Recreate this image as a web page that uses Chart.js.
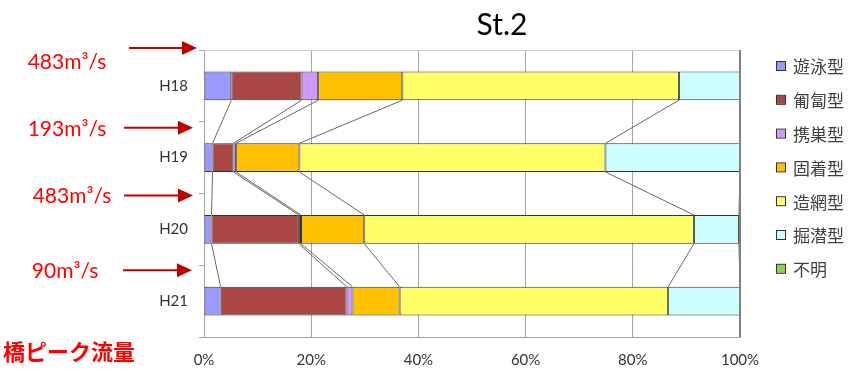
<!DOCTYPE html>
<html lang="ja">
<head>
<meta charset="UTF-8">
<title>St.2</title>
<script src="https://cdn.jsdelivr.net/npm/chart.js"></script>
<style>
  html, body { margin: 0; padding: 0; background: #fff; }
  #wrap { width: 857px; height: 369px; position: relative; }
</style>
</head>
<body>
<div id="wrap"><canvas id="chart"></canvas></div>
<script>
// survey years
const years = ['H18', 'H19', 'H20', 'H21'];

// feeding/habit types and their composition (%) per year
const typeNames = ['遊泳型', '匍匐型', '携巣型', '固着型', '造網型', '掘潜型', '不明'];
const swimming  = [5.1, 1.6, 1.4, 3.1];
const crawling  = [13.1, 3.9, 16.3, 23.5];
const caseMaker = [3.1, 0.5, 0.4, 1.1];
const clinging  = [15.7, 11.8, 11.8, 8.8];
const netSpin   = [51.6, 57.1, 61.5, 50.1];
const burrowing = [11.4, 25.1, 8.4, 13.4];
const unknown   = [0, 0, 0.2, 0];

// peak discharge at the bridge before each survey
const peakFlow = ['483m³/s', '193m³/s', '483m³/s', '90m³/s'];

const colors = ['#9999FF', '#AA4643', '#CC99FF', '#FFC000', '#FFFF66', '#CCFFFF', '#92D050'];
const seriesValues = [swimming, crawling, caseMaker, clinging, netSpin, burrowing, unknown];

const datasets = typeNames.map((name, i) => ({
  label: name,
  data: seriesValues[i],
  backgroundColor: colors[i],
  borderColor: '#333333',
  borderWidth: 1,
  borderSkipped: false,
  barPercentage: 0.4,
  categoryPercentage: 1
}));

// grey connector lines between neighbouring bars, like Excel series lines
const seriesLines = {
  id: 'seriesLines',
  beforeDatasetsDraw(chart) {
    const ctx = chart.ctx;
    ctx.save();
    ctx.strokeStyle = '#666666';
    ctx.lineWidth = 1;
    for (let d = 0; d < chart.data.datasets.length; d++) {
      const bars = chart.getDatasetMeta(d).data;
      for (let i = 0; i < bars.length - 1; i++) {
        const a = bars[i], b = bars[i + 1];
        ctx.beginPath();
        ctx.moveTo(a.x, a.y + a.height / 2);
        ctx.lineTo(b.x, b.y - b.height / 2);
        ctx.stroke();
      }
    }
    ctx.restore();
  }
};

// hand placement of the discharge notes (offsets from the band edge above each year)
const noteArrowDy = [-2, 6, 2, 5];
const noteArrowX = [[129, 197], [124, 193], [124, 193], [123, 192]];
const noteText = [[67, 12], [67, 7], [72, 3], [65, 6]];

// title, legend box, plot border and the red discharge notes
const decorations = {
  id: 'decorations',
  afterDraw(chart) {
    const ctx = chart.ctx;
    const area = chart.chartArea;
    const y = chart.scales.y;
    ctx.save();

    // plot border
    ctx.strokeStyle = '#d0d0d0';
    ctx.lineWidth = 1;
    ctx.beginPath();
    ctx.moveTo(area.left, area.top + 0.5);
    ctx.lineTo(area.right, area.top + 0.5);
    ctx.stroke();
    ctx.strokeStyle = '#808080';
    ctx.lineWidth = 2;
    ctx.beginPath();
    ctx.moveTo(area.right, area.top);
    ctx.lineTo(area.right, area.bottom);
    ctx.stroke();

    // title
    ctx.fillStyle = '#000';
    ctx.font = '30px Lato, "Open Sans", sans-serif';
    ctx.textAlign = 'center';
    ctx.textBaseline = 'middle';
    ctx.fillText('St.2', 502, 25);

    // legend
    ctx.font = '17px "Noto Sans CJK JP", sans-serif';
    ctx.textAlign = 'left';
    chart.data.datasets.forEach((ds, i) => {
      const cy = 66 + i * 33.8;
      ctx.fillStyle = ds.backgroundColor;
      ctx.fillRect(777, cy - 4, 8, 8);
      ctx.strokeStyle = '#333';
      ctx.lineWidth = 1;
      ctx.strokeRect(776.5, cy - 4.5, 9, 9);
      ctx.fillStyle = '#404040';
      ctx.fillText(ds.label, 793, cy + 1);
    });

    // discharge notes with arrows pointing at the band above each year
    const band = y.getPixelForValue(1) - y.getPixelForValue(0);
    peakFlow.forEach((txt, i) => {
      const edge = y.getPixelForValue(i) - band / 2;
      const ay = edge + noteArrowDy[i];
      const [x0, tipX] = noteArrowX[i];
      ctx.strokeStyle = '#C00000';
      ctx.fillStyle = '#C00000';
      ctx.lineWidth = 2;
      ctx.beginPath();
      ctx.moveTo(x0, ay);
      ctx.lineTo(tipX - 12, ay);
      ctx.stroke();
      ctx.beginPath();
      ctx.moveTo(tipX, ay);
      ctx.lineTo(tipX - 15, ay - 7);
      ctx.lineTo(tipX - 15, ay + 7);
      ctx.closePath();
      ctx.fill();

      ctx.fillStyle = '#FF0000';
      ctx.font = '21px Lato, "Open Sans", sans-serif';
      ctx.textAlign = 'center';
      ctx.fillText(txt, noteText[i][0], edge + noteText[i][1]);
    });

    ctx.fillStyle = '#FF0000';
    ctx.font = 'bold 22px "Noto Sans CJK JP", sans-serif';
    ctx.textAlign = 'left';
    ctx.fillText('橋ピーク流量', 3, 352);
    ctx.restore();
  }
};

new Chart(document.getElementById('chart'), {
  type: 'bar',
  data: { labels: years, datasets: datasets },
  options: {
    indexAxis: 'y',
    responsive: true,
    maintainAspectRatio: false,
    animation: false,
    layout: { padding: { left: 0, right: 117, top: 50, bottom: 0 } },
    plugins: {
      legend: { display: false },
      title: { display: false },
      tooltip: { enabled: false }
    },
    scales: {
      x: {
        stacked: true,
        min: 0,
        max: 100,
        ticks: {
          stepSize: 20,
          padding: 14,
          color: '#333',
          font: { family: 'Lato, "Open Sans", sans-serif', size: 15 },
          callback: v => v + '%'
        },
        grid: { color: '#a6a6a6', drawTicks: false },
        border: { color: '#a6a6a6' },
        afterFit(scale) { scale.height = 32; }
      },
      y: {
        stacked: true,
        ticks: {
          padding: 11,
          color: '#333',
          font: { family: 'Lato, "Open Sans", sans-serif', size: 15 }
        },
        grid: { offset: true, drawOnChartArea: false, drawTicks: true, tickLength: 5, color: '#a6a6a6' },
        border: { color: '#a6a6a6' },
        afterFit(scale) { scale.width = 204; }
      }
    }
  },
  plugins: [seriesLines, decorations]
});
</script>
</body>
</html>
